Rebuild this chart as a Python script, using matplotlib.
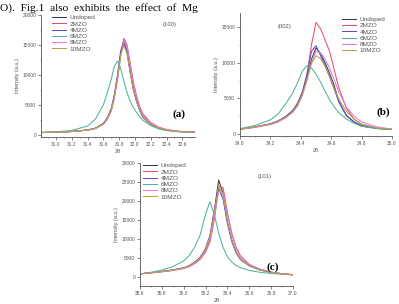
from __future__ import annotations

import matplotlib

matplotlib.use("Agg")
import matplotlib.pyplot as plt
from matplotlib.ticker import MultipleLocator, FormatStrFormatter

SAMPLES = ["Undoped", "2MZO", "4MZO", "6MZO", "8MZO", "10MZO"]
COLORS = ["#3a3a48", "#e8506a", "#5a50c8", "#4fb3a0", "#e07ae6", "#b5a642"]

# (100) reflection
XA = [30.82, 31.0, 31.2, 31.4, 31.5, 31.6, 31.65, 31.7, 31.74, 31.78, 31.82, 31.86,
      31.9, 31.94, 31.98, 32.02, 32.06, 32.1, 32.2, 32.3, 32.4, 32.55, 32.75]
A_UNDOPED = [350, 400, 520, 750, 1050, 1800, 2700, 4200, 6500, 9700, 13600, 15300,
             13800, 10500, 7600, 5700, 4100, 3000, 1700, 1100, 750, 520, 420]
A_2MZO = [350, 400, 520, 760, 1050, 1750, 2600, 4000, 6200, 9400, 13500, 16100,
          15000, 11900, 8800, 6500, 4700, 3500, 2000, 1250, 850, 560, 440]
A_4MZO = [350, 410, 540, 780, 1100, 1900, 2850, 4400, 6800, 10100, 14100, 15700,
          13900, 10400, 7500, 5500, 4000, 2900, 1650, 1050, 730, 510, 420]
A_6MZO = [380, 450, 700, 1450, 2600, 5000, 7000, 9300, 11500, 12300, 11000, 8900,
          7000, 5600, 4500, 3700, 3000, 2400, 1500, 950, 680, 480, 400]
A_8MZO = [340, 390, 510, 740, 1020, 1750, 2600, 4000, 6200, 9300, 13200, 15700,
          14700, 11600, 8500, 6300, 4500, 3300, 1900, 1200, 820, 550, 430]
A_10MZO = [350, 400, 520, 750, 1050, 1800, 2700, 4200, 6500, 9600, 13300, 14900,
           13500, 10300, 7500, 5600, 4000, 2900, 1700, 1100, 750, 520, 420]

# (002) reflection
XB = [34.0, 34.1, 34.2, 34.25, 34.3, 34.35, 34.38, 34.41, 34.44, 34.47, 34.5,
      34.53, 34.56, 34.59, 34.62, 34.65, 34.7, 34.75, 34.8, 34.9, 35.0]
B_UNDOPED = [700, 1000, 1400, 1800, 2400, 3300, 4200, 5600, 7800, 10500, 12100,
             11300, 10000, 8500, 6800, 4600, 2600, 1700, 1100, 800, 650]
B_2MZO = [650, 950, 1350, 1700, 2300, 3200, 4200, 5800, 8300, 12500, 15700,
          14800, 13200, 11600, 9000, 6500, 3600, 2100, 1300, 850, 650]
B_4MZO = [700, 1000, 1450, 1850, 2450, 3400, 4400, 5900, 8300, 11600, 12400,
          11000, 9600, 8000, 6300, 4500, 2600, 1700, 1150, 800, 650]
B_6MZO = [750, 1200, 2000, 2800, 4200, 5900, 7300, 8800, 9600, 9300, 8400,
          7300, 6000, 4800, 3800, 3000, 2100, 1500, 1100, 750, 600]
B_8MZO = [650, 950, 1350, 1700, 2250, 3100, 4000, 5400, 7500, 10000, 11600,
          11400, 10500, 9200, 7600, 5900, 3800, 2500, 1700, 1000, 700]
B_10MZO = [700, 1000, 1400, 1800, 2350, 3200, 4100, 5500, 7600, 9900, 11000,
           10600, 9500, 8000, 6400, 4900, 3200, 2100, 1400, 850, 650]

# (101) reflection
XC = [35.6, 35.7, 35.8, 35.9, 36.0, 36.05, 36.1, 36.15, 36.2, 36.24, 36.28, 36.32,
      36.36, 36.4, 36.44, 36.48, 36.52, 36.6, 36.7, 36.8, 36.9, 37.0]
C_UNDOPED = [800, 1100, 1400, 1800, 2300, 2800, 3600, 4800, 7000, 10000, 17500, 25500,
             22000, 14500, 9700, 6500, 4600, 3000, 1800, 1200, 800, 550]
C_2MZO = [800, 1050, 1350, 1700, 2200, 2700, 3500, 4600, 6500, 9200, 15000, 24000,
          23500, 17000, 11500, 7800, 5500, 3300, 2000, 1300, 850, 600]
C_4MZO = [800, 1100, 1450, 1850, 2400, 3000, 3900, 5200, 7500, 11000, 17500, 23300,
          20500, 14000, 9300, 6300, 4500, 2900, 1800, 1200, 800, 550]
C_6MZO = [800, 1200, 1800, 2700, 4200, 5600, 7800, 11000, 16500, 19800, 16500, 11500,
          7800, 5300, 3900, 3000, 2400, 1700, 1200, 900, 700, 550]
C_8MZO = [780, 1050, 1350, 1700, 2250, 2800, 3600, 4800, 6900, 9800, 15500, 22500,
          22300, 16500, 11000, 7400, 5200, 3200, 1950, 1250, 830, 580]
C_10MZO = [800, 1100, 1400, 1800, 2300, 2900, 3700, 5000, 7200, 10500, 17000, 24000,
           21500, 14500, 9600, 6500, 4600, 2900, 1800, 1200, 800, 550]

GREY = "#555555"


def style_axis(axis, xlim, ylim, xstep, ystep):
    axis.set_xlim(*xlim)
    axis.set_ylim(*ylim)
    axis.spines["top"].set_visible(False)
    axis.spines["right"].set_visible(False)
    for side in ("left", "bottom"):
        axis.spines[side].set_color(GREY)
        axis.spines[side].set_linewidth(0.6)
    axis.xaxis.set_major_locator(MultipleLocator(xstep))
    axis.xaxis.set_minor_locator(MultipleLocator(xstep / 2))
    axis.xaxis.set_major_formatter(FormatStrFormatter("%.1f"))
    axis.yaxis.set_major_locator(MultipleLocator(ystep))
    axis.yaxis.set_minor_locator(MultipleLocator(ystep / 2))
    axis.tick_params(which="major", direction="out", length=2, width=0.5,
                     labelsize=3.5, colors=GREY, pad=1.5)
    axis.tick_params(which="minor", direction="out", length=1, width=0.4, colors=GREY)
    axis.set_ylabel("Intensity (a.u.)", fontsize=4, color=GREY, labelpad=2)
    axis.set_xlabel("2θ", fontsize=4, color=GREY, labelpad=1.5)


def draw_panel(axis, x, series, legend_anchor):
    for name, color, values in zip(SAMPLES, COLORS, series):
        axis.plot(x, values, color=color, linewidth=0.75, label=name)
    axis.legend(loc="upper left", bbox_to_anchor=legend_anchor, frameon=False,
                fontsize=4.6, handlelength=2.2, handletextpad=0.6,
                labelspacing=0.12, borderpad=0, borderaxespad=0, labelcolor=GREY)


def main() -> None:
    plt.rcParams["font.family"] = ["Liberation Sans", "DejaVu Sans"]
    figure = plt.figure(figsize=(3.99, 3.04), dpi=100)

    figure.text(0.0, 1 - 10.5 / 304, "O).  Fig.1  also  exhibits  the  effect  of  Mg",
                family="Liberation Serif", fontsize=8.2, va="baseline", ha="left")

    ax_a = figure.add_axes([41 / 399, 1 - 137 / 304, 154 / 399, 122 / 304])
    ax_b = figure.add_axes([240 / 399, 1 - 136 / 304, 152 / 399, 123 / 304])
    ax_c = figure.add_axes([140 / 399, 1 - 286 / 304, 153 / 399, 123 / 304])

    draw_panel(ax_a, XA, [A_UNDOPED, A_2MZO, A_4MZO, A_6MZO, A_8MZO, A_10MZO], (0.07, 1.0))
    style_axis(ax_a, (30.81, 32.76), (-400, 20000), 0.2, 5000)
    ax_a.text(0.79, 0.91, "(100)", transform=ax_a.transAxes, fontsize=4.2, color=GREY)
    ax_a.text(0.855, 0.17, "(a)", transform=ax_a.transAxes, fontsize=8,
              family="Liberation Serif", weight="bold")

    draw_panel(ax_b, XB, [B_UNDOPED, B_2MZO, B_4MZO, B_6MZO, B_8MZO, B_10MZO], (0.67, 0.97))
    style_axis(ax_b, (34.0, 35.0), (-280, 17000), 0.2, 5000)
    ax_b.text(0.25, 0.88, "(002)", transform=ax_b.transAxes, fontsize=4.2, color=GREY)
    ax_b.text(0.90, 0.17, "(b)", transform=ax_b.transAxes, fontsize=8,
              family="Liberation Serif", weight="bold")

    draw_panel(ax_c, XC, [C_UNDOPED, C_2MZO, C_4MZO, C_6MZO, C_8MZO, C_10MZO], (0.02, 1.0))
    style_axis(ax_c, (35.6, 37.0), (-2400, 30000), 0.2, 5000)
    ax_c.text(0.77, 0.88, "(101)", transform=ax_c.transAxes, fontsize=4.2, color=GREY)
    ax_c.text(0.83, 0.13, "(c)", transform=ax_c.transAxes, fontsize=8,
              family="Liberation Serif", weight="bold")

    figure.savefig("out.png", dpi=100)
    plt.close(figure)


if __name__ == "__main__":
    main()
